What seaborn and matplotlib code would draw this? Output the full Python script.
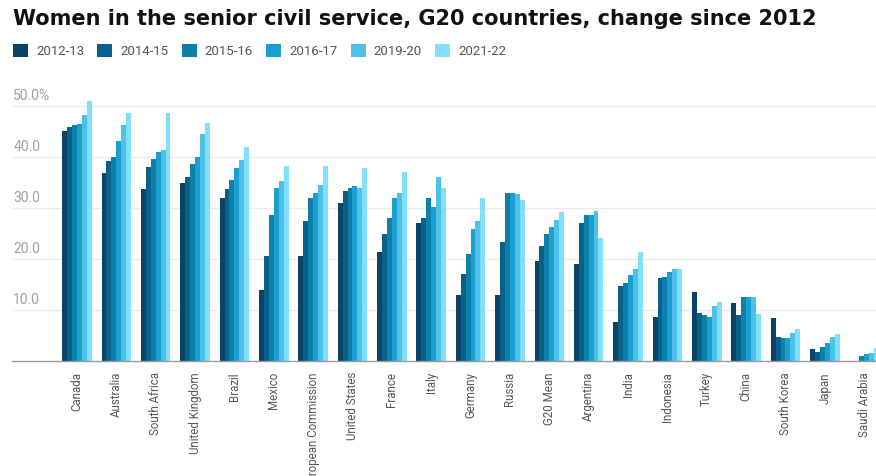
import matplotlib
matplotlib.use('Agg')
import matplotlib.pyplot as plt
import pandas as pd
import seaborn as sns

countries = ['Canada', 'Australia', 'South Africa', 'United Kingdom', 'Brazil', 'Mexico',
             'European Commission', 'United States', 'France', 'Italy', 'Germany', 'Russia',
             'G20 Mean', 'Argentina', 'India', 'Indonesia', 'Turkey', 'China', 'South Korea',
             'Japan', 'Saudi Arabia']
years = ['2012-13', '2014-15', '2015-16', '2016-17', '2019-20', '2021-22']

v_2012 = [45.0, 36.9, 33.8, 34.9, 32.0, 13.9, 20.5, 31.0, 21.3, 27.0, 12.9, 12.9, 19.7, 19.0, 7.6, 8.7, 13.5, 11.4, 8.5, 2.4, None]
v_2014 = [45.8, 39.2, 38.1, 36.1, 33.7, 20.6, 27.4, 33.4, 24.9, 28.0, 17.0, 23.3, 22.6, 27.0, 14.7, 16.3, 9.4, 9.0, 4.8, 1.8, None]
v_2015 = [46.2, 40.0, 39.7, 38.7, 35.4, 28.7, 31.9, 33.9, 28.0, 31.9, 21.0, 32.9, 24.9, 28.7, 15.3, 16.5, 9.0, 12.5, 4.5, 2.8, 1.0]
v_2016 = [46.5, 43.2, 41.0, 40.0, 37.8, 33.9, 32.9, 34.3, 31.9, 30.1, 25.9, 32.9, 26.2, 28.7, 16.9, 17.4, 8.7, 12.5, 4.6, 3.5, 1.3]
v_2019 = [48.2, 46.3, 41.3, 44.6, 39.4, 35.2, 34.5, 33.9, 32.9, 36.1, 27.4, 32.7, 27.6, 29.5, 18.0, 18.0, 10.8, 12.5, 5.4, 4.8, 1.5]
v_2021 = [51.0, 48.6, 48.6, 46.7, 41.9, 38.2, 38.2, 37.9, 37.0, 33.9, 31.9, 31.6, 29.2, 24.2, 21.3, 18.0, 11.6, 9.3, 6.3, 5.2, 2.5]

colors = ['#0a4469', '#086189', '#0a80ab', '#1b9fcf', '#4dc1ea', '#7fdffd']

df = pd.DataFrame({'Country': countries, '2012-13': v_2012, '2014-15': v_2014,
                   '2015-16': v_2015, '2016-17': v_2016, '2019-20': v_2019,
                   '2021-22': v_2021})
df = df.melt(id_vars='Country', var_name='Year', value_name='Share')

sns.set_theme(style='white')
plt.rcParams['font.family'] = ['Roboto', 'DejaVu Sans']

fig = plt.figure(figsize=(8.76, 4.76), dpi=100)
ax = fig.add_axes([12 / 876, 115 / 476, 864 / 876, 265.2 / 476])

sns.barplot(data=df, x='Country', y='Share', hue='Year', hue_order=years,
            palette=colors, width=0.75, gap=0, linewidth=0, saturation=1,
            errorbar=None, ax=ax)

ax.set_xlim(-1.65, 20.3)
ax.set_ylim(0, 52)

# grid + y labels sitting above the lines
yticks = [10, 20, 30, 40, 50]
ax.set_yticks(yticks)
ax.yaxis.grid(True, color='#ebebeb', linewidth=1)
ax.set_axisbelow(True)
ax.tick_params(axis='y', left=False, labelleft=False)
for t in yticks:
    lab = f'{t:.1f}%' if t == 50 else f'{t:.1f}'
    ax.text(0.0015, t + 0.6, lab, transform=ax.get_yaxis_transform(),
            ha='left', va='bottom', fontsize=10, color='#a0a0a0')

ax.tick_params(axis='x', bottom=False, pad=2, labelsize=8.3, labelcolor='#555555')
plt.setp(ax.get_xticklabels(), rotation=90, ha='center', va='top')
ax.set_xlabel('')
ax.set_ylabel('')

for s in ['top', 'right', 'left']:
    ax.spines[s].set_visible(False)
ax.spines['bottom'].set_color('#9a9a9a')
ax.spines['bottom'].set_linewidth(1)

handles, labels = ax.get_legend_handles_labels()
ax.legend_.remove()
fig.legend(handles, labels, ncol=6, loc='upper left',
           bbox_to_anchor=(1 / 876, 1 - 32 / 476), frameon=False,
           handlelength=1.15, handleheight=1.15, handletextpad=0.6,
           columnspacing=1.0, fontsize=9.5, labelcolor='#555555')

fig.text(13 / 876, 1 - 9 / 476,
         'Women in the senior civil service, G20 countries, change since 2012',
         fontsize=15, fontweight='bold', color='#111111', ha='left', va='top',
         family=['DejaVu Sans'])

fig.savefig('out.png', dpi=100)
